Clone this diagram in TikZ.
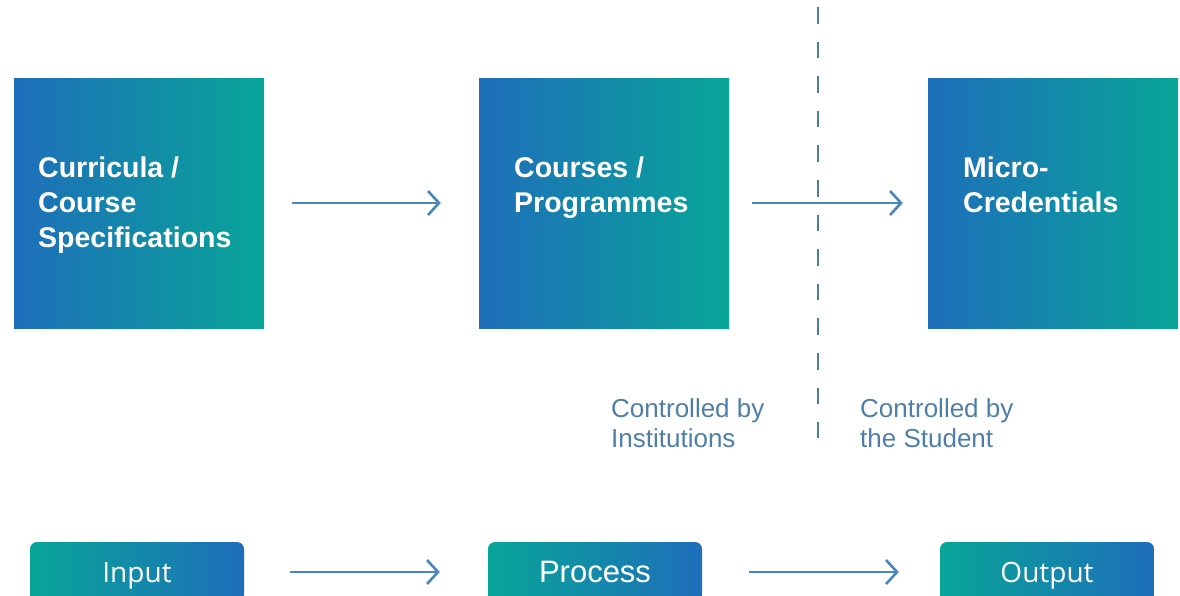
\documentclass[tikz,border=0pt]{standalone}
\usepackage{fontspec}
\setmainfont{Liberation Sans}
\newfontfamily\btnfont{Open Sans}
\usetikzlibrary{arrows.meta}
\definecolor{gblue}{HTML}{1E6EBA}
\definecolor{gteal}{HTML}{08A598}
\definecolor{arrowc}{HTML}{4A86BE}
\definecolor{dashc}{HTML}{4E7F92}
\definecolor{capc}{HTML}{4F7FA8}
\tikzset{
  bigbox/.style={rectangle, minimum width=250pt, minimum height=250pt, inner sep=0pt, left color=gblue, right color=gteal, draw=none},
  boxtext/.style={anchor=north west, inner sep=0pt, text=white, font=\fontsize{28.5}{35}\selectfont\bfseries, align=left},
  btn/.style={rectangle, rounded corners=7pt, minimum width=214pt, minimum height=60pt, inner sep=0pt, left color=gteal, right color=gblue, draw=none},
  btntext/.style={anchor=base, inner sep=0pt, text=white},
  flow/.style={draw=arrowc, line width=2.6pt, -{Straight Barb[length=11pt,width=24pt,line width=2.6pt]}},
  caption/.style={anchor=north west, inner sep=0pt, text=capc, font=\fontsize{26}{30}\selectfont, align=left},
}
\begin{document}
\begin{tikzpicture}[x=1pt,y=-1pt]
\useasboundingbox (0,0) rectangle (1180,595);
\fill[white] (0,0) rectangle (1180,595);
\begin{scope}
\clip (0,0) rectangle (1180,595);
% top boxes
\node[bigbox] (b1) at (139,203) {};
\node[bigbox] (b2) at (604,203) {};
\node[bigbox] (b3) at (1053,203) {};
\node[boxtext] (t1) at (38,157) {Curricula /\\Course\\Specifications};
\node[boxtext] (t2) at (514,157) {Courses /\\Programmes};
\node[boxtext] (t3) at (963,157) {Micro-\\Credentials};
% dashed divider
\coordinate (dtop) at (818,7);
\coordinate (dbot) at (818,438);
\draw[dashc, line width=2.6pt, dash pattern=on 16.5pt off 18.1pt] (dtop) -- (dbot);
% top arrows
\draw[flow] ([xshift=28pt]b1.east) -- ([xshift=-38pt]b2.west);
\draw[flow] ([xshift=23pt]b2.east) -- ([xshift=-25pt]b3.west);
% captions
\node[caption] (c1) at (611,398) {Controlled by\\Institutions};
\node[caption] (c2) at (860,398) {Controlled by\\the Student};
% bottom buttons
\node[btn] (i1) at (137,572) {};
\node[btn] (p1) at (595,572) {};
\node[btn] (o1) at (1047,572) {};
\node[btntext, font=\btnfont\fontsize{28}{30}\selectfont] (it) at (137,582) {Input};
\node[btntext, font=\fontsize{31}{33}\selectfont] (pt) at (595,582) {Process};
\node[btntext, font=\btnfont\fontsize{28}{30}\selectfont] (ot) at (1047,582) {Output};
\draw[flow] ([xshift=46pt]i1.east) -- ([xshift=-48pt]p1.west);
\draw[flow] ([xshift=47pt]p1.east) -- ([xshift=-41pt]o1.west);
\end{scope}
\end{tikzpicture}
\end{document}
